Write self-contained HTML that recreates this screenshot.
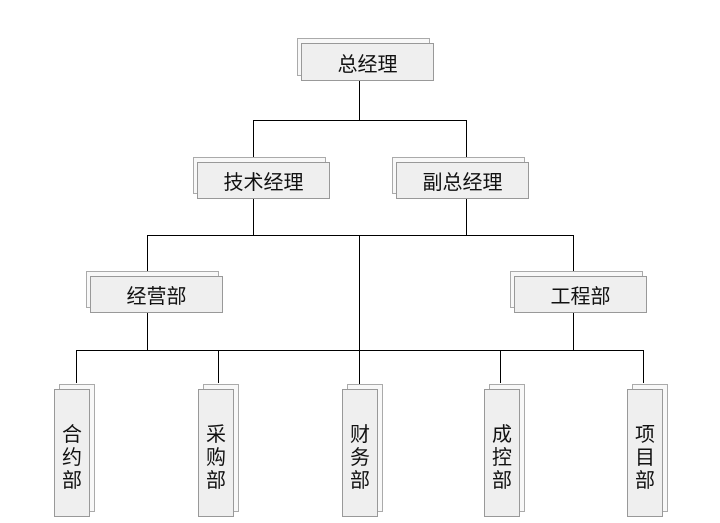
<!DOCTYPE html>
<html><head><meta charset="utf-8"><style>
body{margin:0;width:720px;height:523px;background:#fff;position:relative;overflow:hidden;font-family:"Liberation Sans","Noto Sans CJK SC",sans-serif;}
.b{position:absolute;box-sizing:border-box;border:1px solid #aaa;background:#f8f8f8;}
.f{position:absolute;box-sizing:border-box;border:1px solid #999;background:#efefef;display:flex;align-items:center;justify-content:center;color:#111;font-size:20px;}
.v{font-size:20px;line-height:23px;text-align:center;padding-top:34px;}
.l{position:absolute;background:#000;}
</style></head><body>
<div class="l" style="left:359px;top:80px;width:1px;height:40px"></div>
<div class="l" style="left:253px;top:120px;width:214px;height:1px"></div>
<div class="l" style="left:253px;top:120px;width:1px;height:42px"></div>
<div class="l" style="left:466px;top:120px;width:1px;height:42px"></div>
<div class="l" style="left:253px;top:198px;width:1px;height:37px"></div>
<div class="l" style="left:466px;top:198px;width:1px;height:37px"></div>
<div class="l" style="left:147px;top:235px;width:427px;height:1px"></div>
<div class="l" style="left:147px;top:235px;width:1px;height:41px"></div>
<div class="l" style="left:573px;top:235px;width:1px;height:41px"></div>
<div class="l" style="left:359px;top:235px;width:1px;height:154px"></div>
<div class="l" style="left:147px;top:312px;width:1px;height:38px"></div>
<div class="l" style="left:573px;top:312px;width:1px;height:38px"></div>
<div class="l" style="left:76px;top:350px;width:568px;height:1px"></div>
<div class="l" style="left:76px;top:350px;width:1px;height:33px"></div>
<div class="l" style="left:218px;top:350px;width:1px;height:33px"></div>
<div class="l" style="left:500px;top:350px;width:1px;height:33px"></div>
<div class="l" style="left:643px;top:350px;width:1px;height:33px"></div>

<div class="b" style="left:297px;top:38px;width:133px;height:38px"></div>
<div class="f" style="left:301px;top:43px;width:133px;height:38px">总经理</div>
<div class="b" style="left:193px;top:157px;width:133px;height:37px"></div>
<div class="f" style="left:197px;top:162px;width:133px;height:37px">技术经理</div>
<div class="b" style="left:392px;top:157px;width:133px;height:37px"></div>
<div class="f" style="left:396px;top:162px;width:133px;height:37px">副总经理</div>
<div class="b" style="left:86px;top:271px;width:133px;height:37px"></div>
<div class="f" style="left:90px;top:276px;width:133px;height:37px">经营部</div>
<div class="b" style="left:510px;top:271px;width:133px;height:37px"></div>
<div class="f" style="left:514px;top:276px;width:133px;height:37px">工程部</div>

<div class="b" style="left:59px;top:384px;width:36px;height:128px"></div>
<div class="f v" style="left:54px;top:389px;width:36px;height:128px;display:block">合<br>约<br>部</div>
<div class="b" style="left:203px;top:384px;width:36px;height:128px"></div>
<div class="f v" style="left:198px;top:389px;width:36px;height:128px;display:block">采<br>购<br>部</div>
<div class="b" style="left:347px;top:384px;width:36px;height:128px"></div>
<div class="f v" style="left:342px;top:389px;width:36px;height:128px;display:block">财<br>务<br>部</div>
<div class="b" style="left:489px;top:384px;width:36px;height:128px"></div>
<div class="f v" style="left:484px;top:389px;width:36px;height:128px;display:block">成<br>控<br>部</div>
<div class="b" style="left:632px;top:384px;width:36px;height:128px"></div>
<div class="f v" style="left:627px;top:389px;width:36px;height:128px;display:block">项<br>目<br>部</div>
</body></html>
